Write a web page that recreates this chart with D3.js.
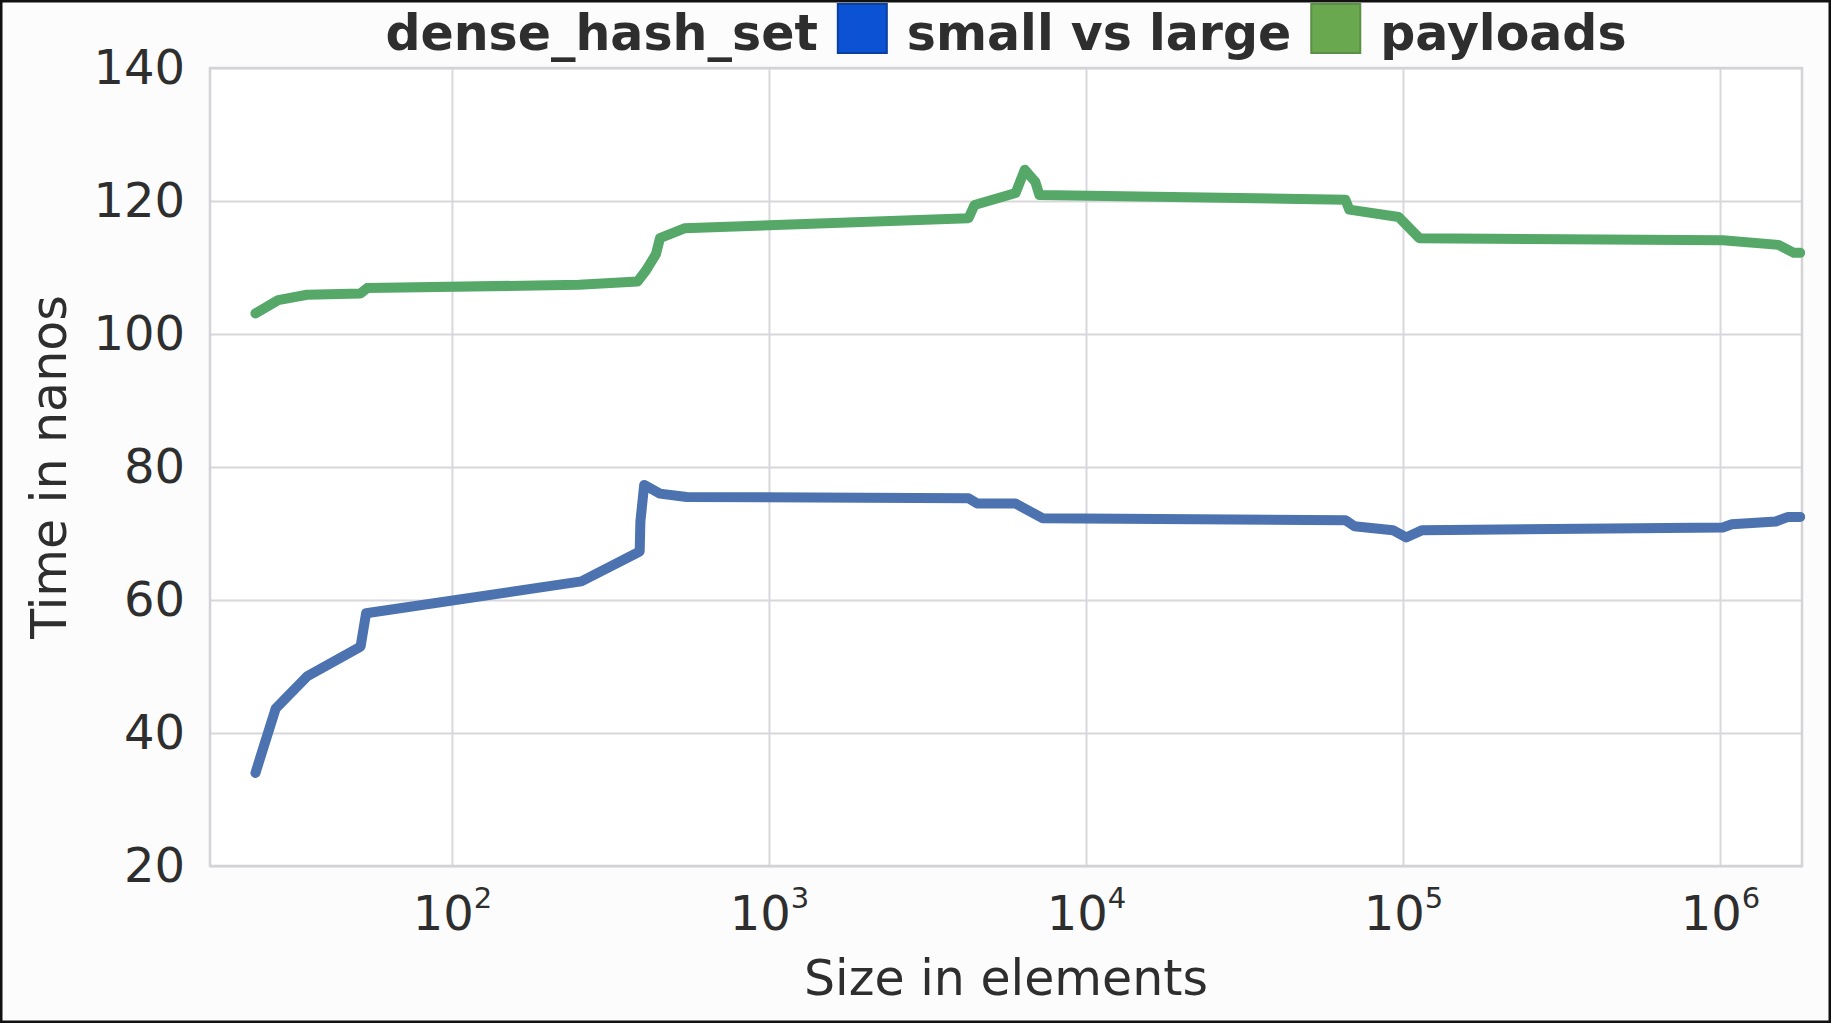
<!DOCTYPE html>
<html>
<head>
<meta charset="utf-8">
<script src="https://cdn.jsdelivr.net/npm/d3@7"></script>
<style>
  body { margin: 0; background: #fcfcfd; }
  text { font-family: "DejaVu Sans", sans-serif; fill: #2e2e2e; }
</style>
</head>
<body>
<svg width="1831" height="1023"></svg>
<script>
// small payloads (blue)
const smallSizes = [24, 27.8, 34.9, 51.5, 53.6, 256, 391, 393, 404, 453, 550, 4260, 4540, 6000, 7290, 65800, 70200, 92900, 102300, 115000, 1020000, 1090000, 1500000, 1640000, 1790000];
const smallTimes = [34.0, 43.7, 48.5, 53.0, 58.0, 62.8, 67.3, 71.8, 77.3, 76.0, 75.5, 75.3, 74.5, 74.5, 72.3, 72.0, 71.1, 70.5, 69.4, 70.5, 70.9, 71.4, 71.8, 72.5, 72.5];

// large payloads (green)
const largeSizes = [24, 28.3, 34.9, 51.5, 54, 252, 385, 410, 440, 453, 541, 4260, 4450, 6000, 6410, 6920, 7130, 65800, 67700, 96900, 112700, 1020000, 1530000, 1710000, 1790000];
const largeTimes = [103.1, 105.1, 105.9, 106.1, 106.9, 107.4, 107.9, 109.6, 112.0, 114.4, 115.9, 117.4, 119.4, 121.2, 124.7, 122.9, 120.9, 120.2, 118.7, 117.6, 114.4, 114.1, 113.4, 112.2, 112.2];

const xTicks = [1e2, 1e3, 1e4, 1e5, 1e6];
const yTicks = [20, 40, 60, 80, 100, 120, 140];

let svg = d3.select("svg"),
    W = +svg.attr("width"),
    H = +svg.attr("height"),
    margin = {top: 68, right: 29, bottom: 157, left: 210},
    width = W - margin.left - margin.right,
    height = H - margin.top - margin.bottom;

svg.append("rect").attr("width", W).attr("height", H).attr("fill", "#fcfcfd");

let g = svg.append("g").attr("transform", "translate(" + margin.left + "," + margin.top + ")");

let x = d3.scaleLog().domain([17.25, 1.814e6]).range([0, width]);
let y = d3.scaleLinear().domain([20, 140]).range([height, 0]);

g.append("rect").attr("width", width).attr("height", height).attr("fill", "#ffffff");

// y grid + labels
let yAxis = g.append("g")
    .call(d3.axisLeft(y).tickValues(yTicks).tickSize(-width).tickPadding(25));
yAxis.select(".domain").remove();
yAxis.selectAll("line").attr("stroke", "#d8d8dc").attr("stroke-width", 2);
yAxis.selectAll("text").attr("font-size", 48).attr("fill", "#2e2e2e");

// x grid + labels
let xAxis = g.append("g")
    .attr("transform", "translate(0," + height + ")")
    .call(d3.axisBottom(x).tickValues(xTicks).tickSize(-height).tickPadding(0).tickFormat(""));
xAxis.select(".domain").remove();
xAxis.selectAll("line").attr("stroke", "#d8d8dc").attr("stroke-width", 2);
xAxis.selectAll(".tick").each(function (d) {
    let t = d3.select(this).select("text")
        .attr("y", 64).attr("dy", null)
        .attr("font-size", 48).attr("text-anchor", "middle").attr("fill", "#2e2e2e");
    t.append("tspan").text("10");
    t.append("tspan").attr("font-size", 29).attr("dy", -22).text(Math.round(Math.log10(d)));
});

// frame
g.append("rect").attr("width", width).attr("height", height)
    .attr("fill", "none").attr("stroke", "#d2d2d7").attr("stroke-width", 2.5);

let line = d3.line()
    .x(function (d) { return x(d[0]); })
    .y(function (d) { return y(d[1]); });

g.append("path")
    .datum(d3.zip(smallSizes, smallTimes))
    .attr("fill", "none")
    .attr("stroke", "#4c72b0")
    .attr("stroke-width", 10)
    .attr("stroke-linejoin", "round")
    .attr("stroke-linecap", "round")
    .attr("d", line);

g.append("path")
    .datum(d3.zip(largeSizes, largeTimes))
    .attr("fill", "none")
    .attr("stroke", "#55a868")
    .attr("stroke-width", 10)
    .attr("stroke-linejoin", "round")
    .attr("stroke-linecap", "round")
    .attr("d", line);

// axis titles
svg.append("text")
    .attr("x", margin.left + width / 2).attr("y", 995)
    .attr("text-anchor", "middle").attr("font-size", 49)
    .text("Size in elements");

svg.append("text")
    .attr("transform", "translate(66," + (margin.top + height / 2) + ") rotate(-90)")
    .attr("text-anchor", "middle").attr("font-size", 49)
    .text("Time in nanos");

// title with colour squares
let title = svg.append("g");
let parts = [
    {type: "text", s: "dense_hash_set"},
    {type: "box", fill: "#0b52d4", edge: "#0a3f9e"},
    {type: "text", s: "small vs large"},
    {type: "box", fill: "#6aa84f", edge: "#5b8f44"},
    {type: "text", s: "payloads"}
];
let cx = 0;
parts.forEach(function (p, i) {
    if (i > 0) cx += 20;
    if (p.type === "text") {
        let t = title.append("text").attr("x", cx).attr("y", 50)
            .attr("font-size", 49).attr("font-weight", "bold").text(p.s);
        cx += t.node().getComputedTextLength();
    } else {
        title.append("rect").attr("x", cx).attr("y", 4).attr("width", 49).attr("height", 49)
            .attr("fill", p.fill).attr("stroke", p.edge).attr("stroke-width", 2);
        cx += 49;
    }
});
title.attr("transform", "translate(" + (1006 - cx / 2) + ",0)");

// outer black border
svg.append("rect").attr("width", W).attr("height", H)
    .attr("fill", "none").attr("stroke", "#111").attr("stroke-width", 5);
</script>
</body>
</html>
